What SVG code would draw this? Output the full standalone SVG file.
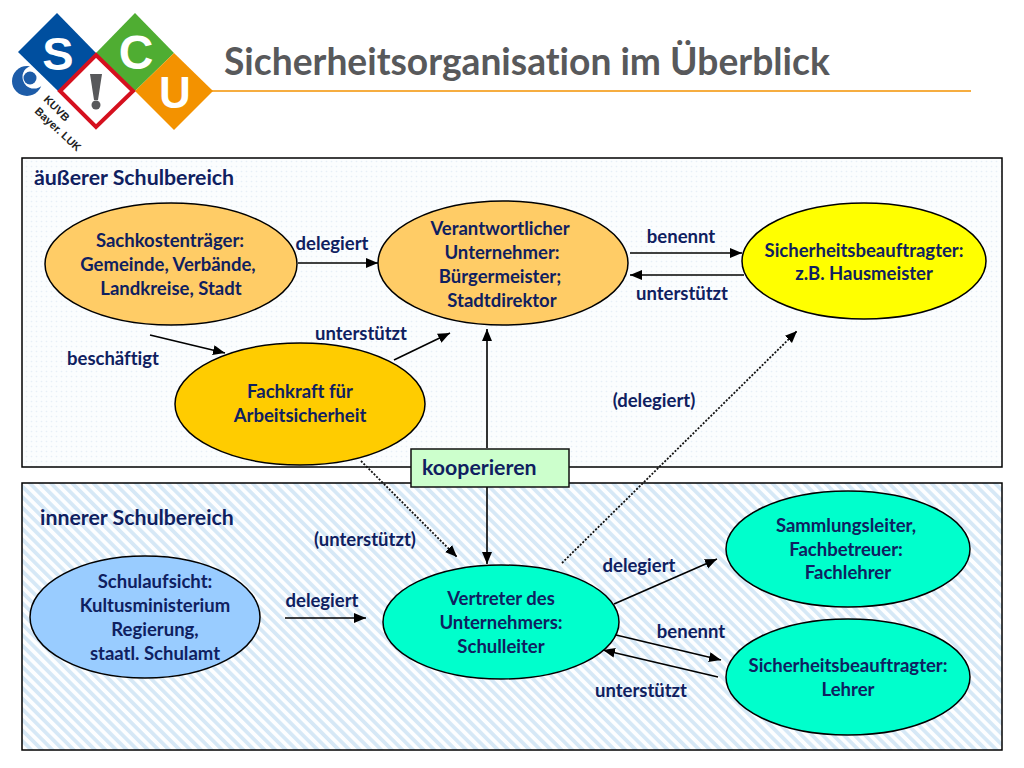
<svg xmlns="http://www.w3.org/2000/svg" width="1024" height="768" viewBox="0 0 1024 768">
<style>
text{font-family:Lato,"Open Sans",sans-serif;font-weight:700;fill:#0f2060;text-anchor:middle;font-size:18.500px;font-variant-ligatures:none}
.l{text-anchor:start}
.n{stroke:#000;stroke-width:1.5}
.c{stroke:#000;stroke-width:1.6;fill:none;marker-end:url(#a)}
.d{stroke:#111;stroke-width:1.8;fill:none;stroke-dasharray:2 1.6;marker-end:url(#a)}
text.logo{font-family:"Liberation Sans",sans-serif;fill:#fff;font-weight:700}
text.k{font-family:"Liberation Sans",sans-serif;font-size:11px;fill:#222;font-weight:700;text-anchor:start}
</style>
<defs>
<marker id="a" markerUnits="userSpaceOnUse" markerWidth="14" markerHeight="12" refX="12" refY="5" orient="auto"><path d="M0 0L12 5L0 10Z" fill="#000"/></marker>
<pattern id="dots" width="5" height="5" patternUnits="userSpaceOnUse"><rect width="5" height="5" fill="#fbfdfe"/><circle cx="1.500" cy="1.500" r=".8" fill="#e6eff7"/></pattern>
<pattern id="hatch" width="7.500" height="7.500" patternUnits="userSpaceOnUse" patternTransform="rotate(-45)"><rect width="7.500" height="7.500" fill="#fdfeff"/><rect width="3.700" height="7.500" fill="#d6e8f6"/></pattern>
</defs>
<rect width="1024" height="768" fill="#fff"/>
<g id="logo">
<path d="M212 91H971" stroke="#f39200" stroke-width="1.600"/>
<circle cx="27" cy="81" r="15" fill="#1d5ca8"/><circle cx="34" cy="77" r="11.500" fill="#fff"/><circle cx="30" cy="78" r="6.500" fill="#1d5ca8"/>
<path d="M57 13L96 53L58 91L18 52Z" fill="#004f9f"/>
<path d="M135 13L174 53L135 91L96 53Z" fill="#4fad32"/>
<path d="M174 53L213 91L174 130L135 91Z" fill="#f39200"/>
<path d="M96 55L133 91L96 127L60 91Z" fill="#fff" stroke="#d5101e" stroke-width="4"/>
<path d="M90 74H102L98 100H94Z" fill="#58595b"/><circle cx="96" cy="105" r="4.500" fill="#58595b"/>
<text class="logo" x="58" y="70" style="font-size:47px">S</text>
<text class="logo" x="136" y="69" style="font-size:48px">C</text>
<text class="logo" x="175" y="108" style="font-size:44px">U</text>
<text class="k" transform="translate(43 100) rotate(45)">KUVB</text>
<text class="k" transform="translate(34 112) rotate(43)">Bayer. LUK</text>
<text class="l" x="224" y="75" style="font-size:37.200px;fill:#58595b">Sicherheitsorganisation im Überblick</text>
</g>
<g id="bereiche">
<rect x="22" y="158" width="980" height="309" fill="url(#dots)" stroke="#000" stroke-width="1.500"/>
<rect x="22" y="483" width="980" height="267" fill="url(#hatch)" stroke="#000" stroke-width="1.500"/>
<text class="l" x="34" y="185" style="font-size:21.300px">äußerer Schulbereich</text>
<text class="l" x="40" y="525" style="font-size:21.300px">innerer Schulbereich</text>
</g>
<g id="connectors">
<path class="c" d="M298 263H378"/>
<path class="c" d="M630 253H742"/>
<path class="c" d="M744 275H630"/>
<path class="c" d="M150 335L225 353"/>
<path class="c" d="M394 360L450 333"/>
<path class="c" d="M487 448V329"/>
<path class="c" d="M487 487V564"/>
<path class="d" d="M361 461L457 557"/>
<path class="d" d="M562 563L797 331"/>
<path class="c" d="M285 618H366"/>
<path class="c" d="M614 604L717 559"/>
<path class="c" d="M616 635L721 660"/>
<path class="c" d="M718 677L603 650"/>
</g>
<g id="sachkosten"><ellipse class="n" cx="171" cy="264" rx="126" ry="61" fill="#ffcc66"/><text x="170" y="247">Sachkostenträger:</text><text x="168" y="271">Gemeinde, Verbände,</text><text x="171" y="295">Landkreise, Stadt</text></g>
<g id="unternehmer"><ellipse class="n" cx="503" cy="263" rx="125" ry="62" fill="#ffcc66"/><text x="500" y="235">Verantwortlicher</text><text x="502" y="259">Unternehmer:</text><text x="500" y="283">Bürgermeister;</text><text x="502" y="307">Stadtdirektor</text></g>
<g id="sibe-aussen"><ellipse class="n" cx="864" cy="261" rx="122" ry="58" fill="#ffff00"/><text x="864" y="257">Sicherheitsbeauftragter:</text><text x="864" y="280">z.B. Hausmeister</text></g>
<g id="fachkraft"><ellipse class="n" cx="300" cy="404" rx="125" ry="61" fill="#ffcc00"/><text x="300" y="398">Fachkraft für</text><text x="300" y="422">Arbeitsicherheit</text></g>
<g id="kooperieren"><rect x="411" y="449" width="158" height="38" fill="#ccffcc" stroke="#111" stroke-width="1.500"/><text class="l" x="422" y="475" style="font-size:21.300px">kooperieren</text></g>
<g id="schulaufsicht"><ellipse class="n" cx="145" cy="617" rx="115" ry="61" fill="#99ccff"/><text x="155" y="588">Schulaufsicht:</text><text x="155" y="612">Kultusministerium</text><text x="155" y="636">Regierung,</text><text x="155" y="660">staatl. Schulamt</text></g>
<g id="schulleiter"><ellipse class="n" cx="501" cy="622" rx="118" ry="57" fill="#00ffcc"/><text x="501" y="605">Vertreter des</text><text x="501" y="629">Unternehmers:</text><text x="501" y="653">Schulleiter</text></g>
<g id="sammlung"><ellipse class="n" cx="848" cy="549" rx="122" ry="58" fill="#00ffcc"/><text x="846" y="532">Sammlungsleiter,</text><text x="846" y="556">Fachbetreuer:</text><text x="848" y="579">Fachlehrer</text></g>
<g id="sibe-innen"><ellipse class="n" cx="848" cy="677" rx="122" ry="58" fill="#00ffcc"/><text x="848" y="672">Sicherheitsbeauftragter:</text><text x="848" y="696">Lehrer</text></g>
<g id="labels">
<text x="332" y="250">delegiert</text><text x="681" y="243">benennt</text><text x="682" y="300">unterstützt</text><text x="361" y="340">unterstützt</text><text x="113" y="365">beschäftigt</text><text x="654" y="407">(delegiert)</text><text x="365" y="546">(unterstützt)</text><text x="639" y="572">delegiert</text><text x="322" y="607">delegiert</text><text x="691" y="638">benennt</text><text x="641" y="697">unterstützt</text>
</g>
</svg>
